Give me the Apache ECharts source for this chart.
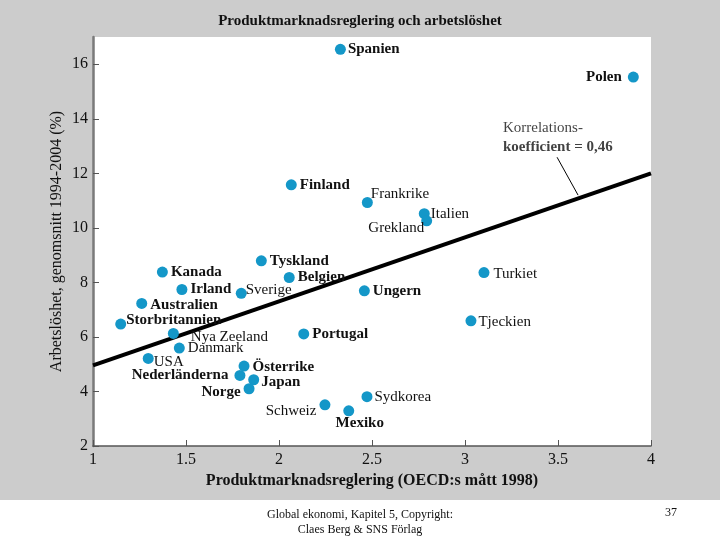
<!DOCTYPE html>
<html>
<head>
<meta charset="utf-8">
<script src="https://cdn.jsdelivr.net/npm/echarts@6/dist/echarts.min.js"></script>
<style>
  html, body { margin: 0; padding: 0; background: #ffffff; }
  #chart { width: 720px; height: 540px; background: linear-gradient(#cccccc 0, #cccccc 500px, #ffffff 500px); }
</style>
</head>
<body>
<div id="chart"></div>
<script>
// ---- Data ----
const countries = ["Spanien","Polen","Finland","Frankrike","Italien","Grekland","Tyskland","Kanada","Belgien","Irland","Sverige","Ungern","Turkiet","Australien","Storbritannien","Tjeckien","Portugal","Nya Zeeland","Danmark","USA","Österrike","Nederländerna","Japan","Norge","Schweiz","Mexiko","Sydkorea"];
const regulation = [2.33,3.905,2.066,2.475,2.781,2.794,1.905,1.373,2.055,1.478,1.797,2.459,3.102,1.262,1.149,3.032,2.133,1.432,1.464,1.297,1.812,1.79,1.864,1.839,2.247,2.375,2.473];
const unemployment = [16.55,15.53,11.58,10.93,10.52,10.26,8.79,8.38,8.18,7.74,7.6,7.69,8.36,7.23,6.47,6.59,6.11,6.13,5.59,5.21,4.93,4.59,4.43,4.10,3.51,3.29,3.81];
const trendX = [1, 4];
const trendY = [4.96, 12.0];
const xTicks = [1, 1.5, 2, 2.5, 3, 3.5, 4];
const yTicks = [2, 4, 6, 8, 10, 12, 14, 16];
const titleText = "Produktmarknadsreglering och arbetslöshet";
const xName = "Produktmarknadsreglering (OECD:s mått 1998)";
const yName = "Arbetslöshet, genomsnitt 1994-2004 (%)";
const corrLine1 = "Korrelations-";
const corrLine2 = "koefficient = 0,46";
const leaderX = [3.495, 3.608];
const leaderY = [12.59, 11.2];
const corrPos = [3.204, 13.32];

// ---- Label placement (style only) ----
const labelPlace = {
  "Polen": {position: "left", offset: [-3, 0], bold: true},
  "Frankrike": {offset: [-5, -8], bold: false},
  "Italien": {offset: [-2, 0], bold: false},
  "Grekland": {position: "left", offset: [6, 7], bold: false},
  "Sverige": {offset: [-4, -3], bold: false},
  "Australien": {offset: [0, 2], bold: true},
  "Storbritannien": {offset: [-3, -4], bold: true},
  "Nya Zeeland": {offset: [9, 4], bold: false},
  "USA": {offset: [-3, 4], bold: false},
  "Österrike": {offset: [0, 1], bold: true},
  "Nederländerna": {position: "left", offset: [-3, 0], bold: true},
  "Japan": {offset: [-1, 2], bold: true},
  "Norge": {position: "left", offset: [0, 3], bold: true},
  "Schweiz": {position: "left", offset: [0, 6], bold: false},
  "Mexiko": {position: "inside", offset: [11, 12], bold: true},
  "Sydkorea": {offset: [-1, 0], bold: false},
  "Turkiet": {offset: [1, 1], bold: false},
  "Tjeckien": {offset: [-1, 1], bold: false},
  "Spanien": {offset: [-1, 0], bold: true},
  "Finland": {bold: true}, "Tyskland": {bold: true}, "Kanada": {bold: true},
  "Belgien": {bold: true}, "Irland": {bold: true}, "Ungern": {bold: true},
  "Portugal": {bold: true}, "Danmark": {bold: false}
};

const FONT = "'Liberation Serif', 'Times New Roman', serif";

const scatterData = countries.map((c, i) => {
  const p = labelPlace[c] || {};
  return {
    name: c,
    value: [regulation[i], unemployment[i]],
    label: {
      show: true,
      formatter: c,
      position: p.position || "right",
      offset: p.offset || [0, 0],
      distance: 3,
      fontWeight: p.bold ? "bold" : "normal"
    }
  };
});

const chart = echarts.init(document.getElementById('chart'), null, {renderer: 'canvas'});
chart.setOption({
  animation: false,
  backgroundColor: 'transparent',
  title: {
    text: titleText, left: 'center', top: 9,
    textStyle: {fontFamily: FONT, fontSize: 15, fontWeight: 'bold', color: '#111'}
  },
  grid: {
    left: 93, right: 69, top: 37, bottom: 94,
    show: true, backgroundColor: '#ffffff', borderWidth: 0
  },
  xAxis: {
    type: 'value', min: 1, max: 4, interval: 0.5,
    name: xName, nameLocation: 'middle', nameGap: 27, nameMoveOverlap: false,
    nameTextStyle: {fontFamily: FONT, fontSize: 16, fontWeight: 'bold', color: '#111'},
    axisLine: {show: true, lineStyle: {color: '#555', width: 1.5}},
    axisTick: {show: true, inside: true, length: 6, lineStyle: {color: '#555'}, customValues: xTicks},
    axisLabel: {fontFamily: FONT, fontSize: 16, color: '#111', margin: 6, customValues: xTicks,
      formatter: v => String(v)},
    splitLine: {show: false}
  },
  yAxis: {
    type: 'value', min: 2, max: 17, interval: 2,
    name: yName, nameLocation: 'middle', nameGap: 28, nameRotate: 90, nameMoveOverlap: false,
    nameTextStyle: {fontFamily: FONT, fontSize: 16, color: '#111'},
    axisLine: {show: true, lineStyle: {color: '#7a7a7a', width: 2.5}},
    axisTick: {show: true, inside: true, length: 6, lineStyle: {color: '#555'}, customValues: yTicks},
    axisLabel: {fontFamily: FONT, fontSize: 16, color: '#111', margin: 5, customValues: yTicks},
    splitLine: {show: false}
  },
  series: [
    {
      type: 'line', z: 3,
      data: trendX.map((x, i) => [x, trendY[i]]),
      symbol: 'none', lineStyle: {color: '#000', width: 4}, silent: true
    },
    {
      type: 'line', z: 3,
      data: leaderX.map((x, i) => [x, leaderY[i]]),
      symbol: 'none', lineStyle: {color: '#000', width: 1}, silent: true
    },
    {
      type: 'scatter', z: 4,
      symbolSize: 11,
      itemStyle: {color: '#1497c8', opacity: 1},
      label: {fontFamily: FONT, fontSize: 15, color: '#111'},
      data: scatterData
    },
    {
      type: 'scatter', z: 4, symbolSize: 0,
      data: [{value: corrPos}],
      label: {
        show: true, position: 'right', distance: 0,
        formatter: '{a|' + corrLine1 + '}\n{b|' + corrLine2 + '}',
        rich: {
          a: {fontFamily: FONT, fontSize: 15, color: '#111', lineHeight: 19},
          b: {fontFamily: FONT, fontSize: 15, fontWeight: 'bold', color: '#111', lineHeight: 19}
        }
      }
    }
  ],
  graphic: [
    {type: 'text', left: 'center', top: 507, style: {text: 'Global ekonomi, Kapitel 5, Copyright:\nClaes Berg & SNS Förlag', textAlign: 'center', font: "12px " + FONT, fill: '#111', lineHeight: 15}},
    {type: 'text', left: 665, top: 507, style: {text: '37', font: "12px " + FONT, fill: '#111'}}
  ]
});
</script>
</body>
</html>
